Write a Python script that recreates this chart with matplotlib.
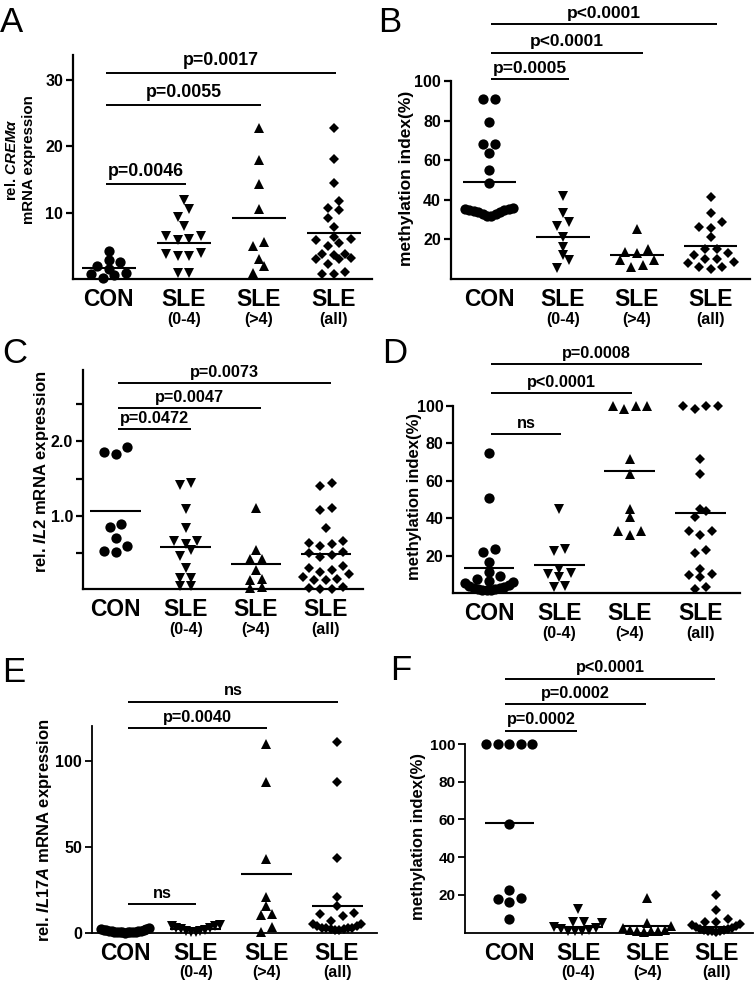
import numpy as np
import matplotlib
matplotlib.use('Agg')
import matplotlib.pyplot as plt

plt.rcParams['font.family'] = ['Liberation Sans', 'DejaVu Sans']
plt.rcParams['font.weight'] = 'bold'
plt.rcParams['mathtext.fontset'] = 'custom'
plt.rcParams['mathtext.rm'] = 'Liberation Sans:bold'
plt.rcParams['mathtext.it'] = 'Liberation Sans:italic:bold'
plt.rcParams['mathtext.bf'] = 'Liberation Sans:bold'

# ---------------- data ----------------
categories = ['CON', 'SLE', 'SLE', 'SLE']
subgroups = ['', '(0-4)', '(>4)', '(all)']
group_markers = ['o', 'v', '^', 'D']

# Panel A: rel. CREMalpha mRNA expression
a_con = [4.3, 2.9, 2.6, 2.0, 1.5, 0.9, 0.8, 0.6, 0.2]
a_sle04 = [11.9, 10.6, 9.4, 8.0, 6.5, 5.9, 6.0, 6.5, 3.9, 3.5, 3.5, 3.7, 0.85, 0.85]
a_sle4 = [22.8, 18.0, 14.4, 10.5, 5.6, 5.0, 3.0, 2.0, 0.85]
a_sleall = [22.8, 18.1, 14.5, 11.8, 10.7, 10.4, 9.2, 7.9, 6.4, 6.1, 5.9, 5.4, 5.0,
            3.7, 3.6, 3.1, 3.0, 3.0, 3.7, 2.3, 1.0, 0.8, 0.8]
a_means = [1.6, 5.5, 9.25, 7.0]
a_sig = [(1, 14.4, 'p=0.0046'), (2, 26.3, 'p=0.0055'), (3, 31.1, 'p=0.0017')]

# Panel B: methylation index (%) CREM
b_con = [91, 91, 79.5, 68, 68, 63.5, 55.3, 48.5,
         36.0, 35.5, 35.0, 34.5, 34.0, 33.0, 32.0, 32.0, 33.0, 34.0, 35.0, 35.5]
b_sle04 = [41.9, 33.1, 28.8, 26.8, 21.4, 16.3, 12.0, 9.7, 5.8]
b_sle4 = [25.4, 15.3, 13.5, 13.3, 9.7, 9.7, 7.0, 6.3]
b_sleall = [41.5, 33.1, 28.8, 26.4, 25.9, 21.2, 15.3, 15.0, 12.9, 12.0, 10.3, 10.0,
            8.4, 8.0, 6.3, 6.3, 5.3]
b_means = [49.0, 21.2, 12.0, 16.6]
b_sig = [(1, 100.9, 'p=0.0005'), (2, 114.2, 'p<0.0001'), (3, 128.7, 'p<0.0001')]

# Panel C: rel. IL2 mRNA expression
c_con = [1.92, 1.86, 1.83, 0.89, 0.85, 0.70, 0.60, 0.53, 0.52]
c_sle04 = [1.44, 1.41, 1.09, 0.84, 0.67, 0.63, 0.67, 0.54, 0.47, 0.30, 0.17, 0.17,
           0.06, 0.06]
c_sle4 = [1.10, 0.55, 0.43, 0.42, 0.28, 0.16, 0.15, 0.05, 0.04]
c_sleall = [1.44, 1.40, 1.10, 1.08, 0.84, 0.66, 0.64, 0.63, 0.60, 0.52, 0.50, 0.48,
            0.45, 0.33, 0.30, 0.28, 0.25, 0.22, 0.18, 0.16, 0.15, 0.14, 0.05, 0.04,
            0.03, 0.02]
c_means = [1.07, 0.59, 0.36, 0.49]
c_sig = [(1, 2.16, 'p=0.0472'), (2, 2.44, 'p=0.0047'), (3, 2.77, 'p=0.0073')]

# Panel D: methylation index (%) IL2
d_con = [75, 51, 23.5, 22, 16.5, 11.5, 9.5, 7.5, 6.5, 5.5, 4.5, 3.5, 3, 2.5, 2, 2, 2,
         2.5, 3, 4, 6]
d_sle04 = [45, 23.5, 22.5, 13, 11, 10.5, 8.5, 4, 3.5]
d_sle4 = [100, 98.5, 100, 100, 71.5, 63.5, 45, 40.5, 33, 31, 33]
d_sleall = [100, 100, 98.5, 100, 71.5, 63.5, 45, 44, 40.5, 33, 33, 31, 21.5, 23,
            10, 10.5, 13, 8.5, 2.5, 3.5]
d_means = [13.4, 15.2, 65.5, 42.8]
d_sig = [(1, 84.9, 'ns'), (2, 106.8, 'p<0.0001'), (3, 122.2, 'p=0.0008')]

# Panel E: rel. IL17A mRNA expression
e_con = [2.5, 2.3, 2.0, 1.8, 1.5, 1.3, 1.2, 1.0, 0.8, 0.7, 0.6, 0.5, 0.5, 0.4, 0.3,
         0.3, 0.2, 0.2, 0.1]
e_sle04 = [4.5, 4.0, 3.8, 3.0, 2.5, 2.0, 1.5, 1.0, 0.8, 0.5, 0.3]
e_sle4 = [110, 87.5, 43, 20.5, 15.5, 11, 10.5, 3.5, 0.5]
e_sleall = [111, 87.5, 43.5, 20.5, 15.5, 11.5, 11, 9.5, 7, 5, 4, 3, 2.5, 2, 1.5, 1.5,
            2, 2.5, 3, 4, 5]
e_means = [1.0, 2.0, 34.0, 15.5]
e_sig = [(1, 16.7, 'ns'), (2, 118.8, 'p=0.0040'), (3, 134.3, 'ns')]

# Panel F: methylation index (%) IL17A
f_con = [100, 100, 100, 100, 100, 57.5, 22.8, 18.0, 18.2, 16.5, 7.3]
f_sle04 = [12.5, 5.5, 5.5, 5.0, 3.0, 2.5, 2.0, 1.5, 1.0, 1.0, 1.0]
f_sle4 = [18.5, 5.0, 3.5, 2.5, 1.5, 1.5, 1.0, 1.0, 1.0, 0.5]
f_sleall = [20, 12, 7, 5.5, 5.5, 4.5, 4, 3.5, 3, 2.5, 2, 2, 1.5, 1.5, 1, 1, 1, 0.5]
f_means = [58.2, 3.1, 3.4, 3.1]
f_sig = [(1, 107.0, 'p=0.0002'), (2, 121.2, 'p=0.0002'), (3, 134.5, 'p<0.0001')]

# ---------------- layout ----------------
W, H = 756, 984
fig = plt.figure(figsize=(W / 100, H / 100), dpi=100)


def px_rect(x0, x1, ytop, ybot):
    return [x0 / W, 1 - ybot / H, (x1 - x0) / W, (ybot - ytop) / H]


def scatter_rows(ax, xc, values, row_h=8.0, sp_max=11.5, width_max=48.0):
    """GraphPad-like column scatter: bin values into rows, spread rows horizontally."""
    vals = np.asarray(values, float)
    disp = ax.transData.transform(np.column_stack([np.full(len(vals), xc), vals]))
    order = list(np.argsort(vals, kind='stable'))
    rows, cur, start = [], [], None
    for i in order:
        y = disp[i, 1]
        if start is None or y - start <= row_h:
            if start is None:
                start = y
            cur.append(i)
        else:
            rows.append(cur)
            cur, start = [i], y
    if cur:
        rows.append(cur)
    offs = np.zeros(len(vals))
    for row in rows:
        n = len(row)
        if n == 1:
            continue
        sp = min(sp_max, width_max / (n - 1))
        slots = [(k - (n - 1) / 2) * sp for k in range(n)]
        slots = sorted(slots, key=lambda s: (abs(s), s))  # centre first
        row_sorted = sorted(row, key=lambda i: vals[i])  # lowest to centre
        for i, s in zip(row_sorted, slots):
            offs[i] = s
    pts = np.column_stack([disp[:, 0] + offs, disp[:, 1]])
    return ax.transData.inverted().transform(pts)[:, 0]


def panel(rect, letter, letter_xy, groups, means, sig, ylim, xlim, yticks, ytlabels,
          ylabel, ylabel_xy, ylabel_size, sig_off, p_size, minor=None,
          spine_w=1.6, tick_size=11.5):
    ax = fig.add_axes(rect)
    ax.set_xlim(*xlim)
    ax.set_ylim(*ylim)
    for s in ['top', 'right']:
        ax.spines[s].set_visible(False)
    for s in ['left', 'bottom']:
        ax.spines[s].set_linewidth(spine_w)
    ax.set_xticks([])
    ax.set_yticks(yticks)
    ax.set_yticklabels(ytlabels, fontsize=tick_size, fontweight='bold')
    if minor is not None:
        ax.set_yticks(minor, minor=True)
    ax.tick_params(axis='y', which='both', direction='out', length=5, width=spine_w,
                   pad=2)
    sizes = {'o': 7.4, 'v': 7.8, '^': 7.8, 'D': 5.4}
    for i, (vals, mk) in enumerate(zip(groups, group_markers)):
        xs = scatter_rows(ax, i, vals)
        ax.plot(xs, vals, linestyle='none', marker=mk, ms=sizes[mk], color='black',
                markeredgewidth=0, clip_on=False, zorder=3)
        ax.plot([i - 0.36, i + 0.36], [means[i], means[i]], color='black', lw=1.5,
                solid_capstyle='butt', zorder=2, clip_on=False)
        ax.annotate(categories[i], xy=(i, 0), xycoords=('data', 'axes fraction'),
                    xytext=(0, -6.5), textcoords='offset points', ha='center',
                    va='top', fontsize=16.5, fontweight='bold', annotation_clip=False)
        if subgroups[i]:
            ax.annotate(subgroups[i], xy=(i, 0), xycoords=('data', 'axes fraction'),
                        xytext=(0, -23.5), textcoords='offset points', ha='center',
                        va='top', fontsize=11.5, fontweight='bold',
                        annotation_clip=False)
    for (j, h, lab) in sig:
        x0, x1 = 0 + sig_off[0], j + sig_off[1]
        ax.plot([x0, x1], [h, h], color='black', lw=1.4, clip_on=False,
                solid_capstyle='butt')
        ax.annotate(lab, xy=((x0 + x1) / 2, h), xytext=(0, 2.5),
                    textcoords='offset points', ha='center', va='bottom',
                    fontsize=p_size, fontweight='bold', annotation_clip=False)
    fig.text(ylabel_xy[0] / W, 1 - ylabel_xy[1] / H, ylabel, rotation=90,
             ha='center', va='center', fontsize=ylabel_size, fontweight='bold',
             multialignment='center')
    fig.text(letter_xy[0] / W, 1 - letter_xy[1] / H, letter, ha='left', va='top',
             fontsize=25, fontweight='normal')
    return ax


panel(px_rect(72.7, 372, 55, 279), 'A', (0, 6),
      [a_con, a_sle04, a_sle4, a_sleall], a_means, a_sig,
      (0, 33.8), (-0.48, 3.51), [10, 20, 30], ['10', '20', '30'],
      'rel. $\\mathit{CREM\\alpha}$\nmRNA expression', (20, 160), 10.8,
      (-0.04, 0.03), 12.8)

panel(px_rect(450.7, 750, 81, 279), 'B', (378, 6),
      [b_con, b_sle04, b_sle4, b_sleall], b_means, b_sig,
      (0, 100), (-0.52, 3.53), [20, 40, 60, 80, 100],
      ['20', '40', '60', '80', '100'],
      'methylation index(%)', (406, 178), 12.5, (0.03, 0.08), 12.5)

panel(px_rect(82.7, 363, 370, 589.3), 'C', (2, 337),
      [c_con, c_sle04, c_sle4, c_sleall], c_means, c_sig,
      (0.02, 2.95), (-0.47, 3.53), [1.0, 2.0], ['1.0', '2.0'],
      'rel. $\\mathit{IL2}$ mRNA expression', (42, 472), 12,
      (0.03, 0.07), 11.7, minor=[0.5, 1.5, 2.5])

panel(px_rect(453, 739.7, 406, 593.3), 'D', (382, 337),
      [d_con, d_sle04, d_sle4, d_sleall], d_means, d_sig,
      (0, 100), (-0.51, 3.56), [20, 40, 60, 80, 100],
      ['20', '40', '60', '80', '100'],
      'methylation index(%)', (415, 496), 12, (0.03, 0.03), 11.7)

panel(px_rect(91.7, 376.7, 726, 932.7), 'E', (2, 656),
      [e_con, e_sle04, e_sle4, e_sleall], e_means, e_sig,
      (0, 120.2), (-0.47, 3.56), [0, 50, 100], ['0', '50', '100'],
      'rel. $\\mathit{IL17A}$ mRNA expression', (45, 830), 12,
      (0.05, 0.01), 11.7, spine_w=1.3)

panel(px_rect(465.3, 753, 744, 932.7), 'F', (390, 654),
      [f_con, f_sle04, f_sle4, f_sleall], f_means, f_sig,
      (0, 100), (-0.64, 3.53), [20, 40, 60, 80, 100],
      ['20', '40', '60', '80', '100'],
      'methylation index(%)', (418, 837), 12, (-0.06, -0.02), 11.7,
      spine_w=1.3, tick_size=11)

fig.savefig('out.png', dpi=100)
